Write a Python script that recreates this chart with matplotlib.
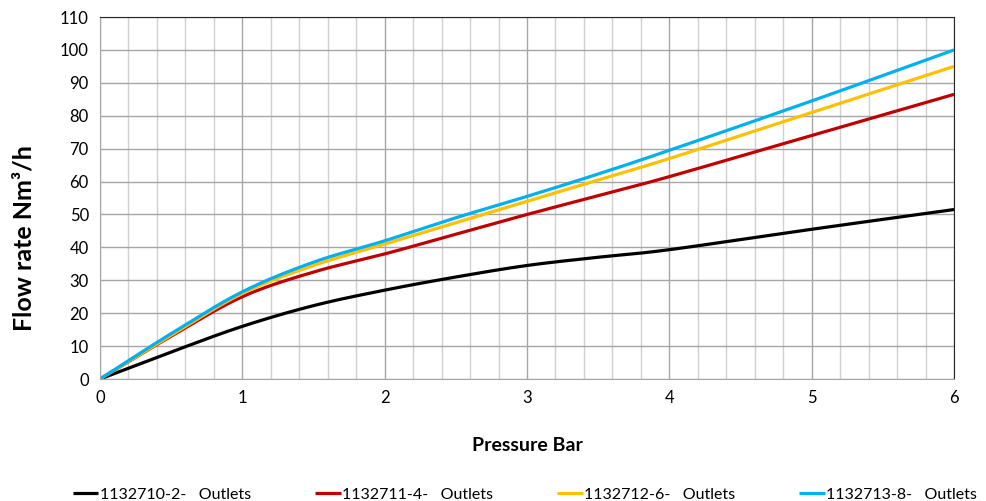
import numpy as np
import matplotlib
matplotlib.use('Agg')
import matplotlib.pyplot as plt
from matplotlib.ticker import MultipleLocator

plt.rcParams['font.family'] = ['Lato', 'DejaVu Sans']

# values
pressure = [0, 0.5, 1, 1.5, 2, 2.5, 3, 3.5, 4, 5, 6]
flow_2 = [0, 8.2, 16, 22.3, 27, 31, 34.5, 37, 39.3, 45.5, 51.5]
flow_4 = [0, 13, 25, 32.5, 38, 44, 50, 55.7, 61.5, 74, 86.5]
flow_6 = [0, 13.3, 26, 34.5, 41, 47.5, 54, 60.5, 67, 81, 95]
flow_8 = [0, 13.8, 26.5, 35.5, 42, 49, 55.5, 62.3, 69.5, 84.5, 100]

labels = ['1132710-2-   Outlets', '1132711-4-   Outlets',
          '1132712-6-   Outlets', '1132713-8-   Outlets']
colors = ['#000000', '#c00000', '#ffc000', '#00b0f0']


def smooth(x, y, n=30):
    # catmull-rom, like the smoothed lines in a spreadsheet chart
    x = np.asarray(x, float)
    y = np.asarray(y, float)
    px = np.concatenate([[2 * x[0] - x[1]], x, [2 * x[-1] - x[-2]]])
    py = np.concatenate([[2 * y[0] - y[1]], y, [2 * y[-1] - y[-2]]])
    xs, ys = [], []
    t = np.linspace(0, 1, n, endpoint=False)
    for i in range(1, len(px) - 2):
        for p, out in ((px, xs), (py, ys)):
            p0, p1, p2, p3 = p[i - 1], p[i], p[i + 1], p[i + 2]
            out.append(0.5 * (2 * p1 + (-p0 + p2) * t
                              + (2 * p0 - 5 * p1 + 4 * p2 - p3) * t ** 2
                              + (-p0 + 3 * p1 - 3 * p2 + p3) * t ** 3))
    xs.append([x[-1]])
    ys.append([y[-1]])
    return np.concatenate(xs), np.concatenate(ys)


fig = plt.figure(figsize=(9.87, 5.01), dpi=100)
ax = fig.add_axes([0.1013, 0.2435, 0.8653, 0.7225])

for ys, c, lab in zip([flow_2, flow_4, flow_6, flow_8], colors, labels):
    sx, sy = smooth(pressure, ys)
    ax.plot(sx, sy, color=c, lw=2.3, label=lab, solid_capstyle='butt')

ax.set_xlim(0, 6)
ax.set_ylim(0, 110)
ax.xaxis.set_major_locator(MultipleLocator(1))
ax.xaxis.set_minor_locator(MultipleLocator(0.2))
ax.yaxis.set_major_locator(MultipleLocator(10))
ax.grid(which='major', axis='y', color='#a6a6a6', lw=1)
ax.grid(which='major', axis='x', color='#a6a6a6', lw=1)
ax.grid(which='minor', axis='x', color='#d0d0d0', lw=1)
ax.set_axisbelow(True)
ax.tick_params(which='both', length=0, labelsize=12, pad=8)
for s in ['left', 'bottom']:
    ax.spines[s].set_color('#a6a6a6')
for s in ['top', 'right']:
    ax.spines[s].set_color('#262626')

ax.set_xlabel('Pressure Bar', fontsize=14, fontweight='bold', labelpad=22)
ax.set_ylabel('Flow rate Nm\u00b3/h', fontsize=18, fontweight='bold')
ax.yaxis.set_label_coords(-0.076, 0.39)

fig.legend(loc='lower center', ncol=4, frameon=False, fontsize=11.5,
           bbox_to_anchor=(0.532, -0.03), handlelength=1.6, handletextpad=0.1,
           columnspacing=4.0)

fig.savefig('out.png', dpi=100)
